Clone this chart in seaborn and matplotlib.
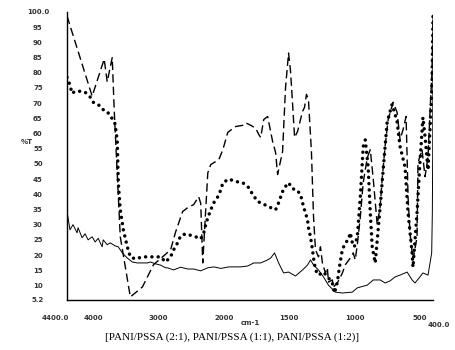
import numpy as np
import pandas as pd
import seaborn as sns
import matplotlib.pyplot as plt
from matplotlib.transforms import ScaledTranslation

# wavenumbers (cm-1) and %T
wn_21 = [4400, 4015, 3831, 3785, 3708, 3677, 3585, 3431, 3246, 3077, 2815, 2738,
         2631, 2554, 2462, 2385, 2354, 2323, 2246, 2200, 2077, 2015, 1970, 1909,
         1855, 1832, 1794, 1756, 1733, 1718, 1695, 1665, 1627, 1604, 1589, 1551,
         1528, 1505, 1490, 1474, 1459, 1436, 1398, 1383, 1368, 1353, 1330, 1314,
         1299, 1276, 1261, 1246, 1223, 1208, 1200, 1170, 1162, 1132, 1094, 1071,
         1033, 1010, 995, 979, 956, 934, 903, 880, 857, 827, 804, 789, 766, 743,
         705, 675, 652, 629, 606, 598, 591, 576, 553, 522, 515, 484, 461, 438,
         423, 408, 400]
t_21 = [98.7, 72.3, 84.5, 77.0, 85.0, 67.3, 26.0, 6.2, 9.5, 16.8, 21.7, 27.6,
        34.3, 35.6, 36.6, 39.2, 37.0, 17.4, 47.0, 49.8, 51.4, 54.7, 60.4, 62.3,
        62.7, 63.5, 62.7, 61.7, 59.7, 58.7, 64.6, 65.6, 57.4, 53.7, 46.5, 54.0,
        75.2, 86.5, 80.5, 69.6, 58.7, 60.7, 67.3, 68.6, 72.9, 71.2, 54.0, 32.6,
        21.7, 19.4, 22.7, 17.4, 14.1, 15.8, 11.1, 11.8, 9.5, 10.8, 14.0, 16.8,
        19.0, 20.7, 18.4, 23.4, 32.6, 43.8, 52.0, 54.7, 45.0, 30.0, 36.0, 45.0,
        56.0, 64.6, 70.3, 67.0, 58.0, 61.3, 65.6, 52.4, 39.0, 27.3, 18.4, 26.0,
        50.4, 54.7, 45.8, 52.4, 67.0, 80.0, 99.0]

wn_11 = [4400, 4354, 4323, 4277, 4200, 4123, 4046, 4000, 3923, 3862, 3785, 3738,
         3692, 3662, 3631, 3615, 3585, 3538, 3477, 3431, 3354, 3246, 3092, 2969,
         2892, 2815, 2769, 2708, 2662, 2585, 2508, 2431, 2354, 2308, 2277, 2246,
         2200, 2154, 2092, 2046, 2015, 1962, 1909, 1855, 1810, 1779, 1741, 1703,
         1657, 1604, 1581, 1543, 1505, 1474, 1444, 1413, 1398, 1383, 1360, 1353,
         1337, 1322, 1314, 1299, 1276, 1238, 1200, 1170, 1154, 1132, 1116, 1094,
         1071, 1048, 1033, 1017, 1002, 979, 956, 934, 918, 896, 880, 865, 842,
         804, 766, 751, 713, 675, 652, 614, 591, 560, 553, 522, 500, 477, 461,
         438, 423, 408, 400]
t_11 = [78.5, 75.9, 73.2, 73.9, 73.9, 73.6, 72.0, 70.3, 69.6, 68.0, 67.3, 65.6,
        64.6, 63.0, 57.4, 43.8, 34.9, 28.3, 22.7, 19.4, 18.7, 19.4, 19.4, 19.4,
        17.7, 19.4, 21.7, 24.0, 26.3, 27.0, 26.5, 26.0, 25.3, 27.3, 30.0, 32.3,
        34.9, 37.2, 39.2, 41.5, 43.8, 45.0, 44.2, 43.8, 42.2, 39.9, 37.6, 36.9,
        35.9, 34.9, 37.2, 41.8, 43.8, 41.8, 41.5, 39.9, 37.2, 34.9, 31.6, 29.0,
        26.0, 21.7, 19.0, 15.1, 13.4, 14.4, 12.5, 10.8, 7.5, 11.0, 16.0, 21.7,
        24.0, 25.0, 27.3, 24.0, 22.7, 26.0, 39.2, 55.7, 57.9, 49.0, 34.0, 22.7,
        17.4, 36.0, 56.0, 63.7, 69.6, 64.0, 55.7, 49.0, 34.0, 20.7, 16.0, 34.0,
        50.4, 65.3, 59.0, 48.0, 61.3, 75.6, 99.0]

wn_12 = [4400, 4354, 4308, 4246, 4231, 4169, 4123, 4077, 4015, 3969, 3923, 3862,
         3846, 3785, 3738, 3662, 3615, 3554, 3477, 3400, 3323, 3246, 3169, 3123,
         3046, 2969, 2892, 2862, 2769, 2662, 2554, 2462, 2354, 2246, 2154, 2046,
         1962, 1871, 1817, 1771, 1718, 1665, 1642, 1612, 1581, 1543, 1505, 1452,
         1398, 1360, 1337, 1314, 1276, 1238, 1200, 1147, 1094, 1017, 979, 903,
         857, 804, 766, 728, 690, 652, 598, 560, 538, 500, 477, 438, 410, 405,
         402, 400]
t_12 = [34.3, 28.3, 30.0, 27.3, 29.0, 25.7, 27.0, 25.0, 26.0, 24.3, 25.5, 22.7,
        25.0, 23.4, 24.0, 23.0, 22.7, 20.7, 19.0, 17.7, 17.4, 17.4, 17.4, 17.7,
        17.1, 16.7, 15.8, 15.8, 15.1, 16.0, 15.4, 15.4, 14.8, 15.8, 16.1, 15.6,
        16.1, 16.1, 16.4, 17.4, 17.4, 18.4, 19.0, 20.7, 17.4, 14.1, 14.4, 13.1,
        15.1, 16.7, 18.4, 16.7, 15.1, 12.8, 10.1, 7.8, 7.5, 7.8, 9.2, 10.1,
        11.8, 11.8, 10.8, 11.5, 12.8, 13.4, 14.4, 11.8, 10.8, 12.8, 14.1, 13.4,
        20.7, 34.0, 56.0, 99.0]

x_ticks = [4400, 4000, 3000, 2000, 1500, 1000, 500, 400]
x_labels = ["4400.0", "4000", "3000", "2000", "1500", "1000", "500", "400.0"]
y_ticks = [5.2] + list(range(10, 101, 5))
y_labels = ["5.2"] + [str(v) for v in range(10, 100, 5)] + ["100.0"]


# FTIR style axis: region below 2000 cm-1 is stretched 2x
def fwd(x):
    x = np.asarray(x, dtype=float)
    return np.where(x >= 2000, x, 2 * x - 2000)


def inv(u):
    u = np.asarray(u, dtype=float)
    return np.where(u >= 2000, u, (u + 2000) / 2)


sns.set_theme(style="white")
plt.rcParams["font.family"] = ["DejaVu Sans"]

fig = plt.figure(figsize=(4.56, 3.5), dpi=100)
ax = fig.add_axes([67 / 456, 1 - 300 / 350, 366 / 456, 288 / 350])
ax.set_xscale("function", functions=(fwd, inv))

df21 = pd.DataFrame({"wn": wn_21, "T": t_21})
df11 = pd.DataFrame({"wn": wn_11, "T": t_11})
df12 = pd.DataFrame({"wn": wn_12, "T": t_12})

sns.lineplot(data=df12, x="wn", y="T", ax=ax, color="black", linewidth=0.7,
             estimator=None, sort=False)
sns.lineplot(data=df21, x="wn", y="T", ax=ax, color="black", linewidth=1.0,
             linestyle=(0, (6, 3)), estimator=None, sort=False)
line = sns.lineplot(data=df11, x="wn", y="T", ax=ax, color="black", linewidth=2.5,
                    linestyle=(0, (0.01, 1.8)), estimator=None, sort=False).lines[-1]
line.set_dash_capstyle("round")

ax.set_xlim(4400, 400)
ax.set_ylim(5.2, 100)
ax.set_xticks(x_ticks)
ax.set_xticklabels(x_labels)
ax.set_yticks(y_ticks)
ax.set_yticklabels(y_labels, ha="center")
ax.minorticks_off()

for s in ["top", "right"]:
    ax.spines[s].set_visible(False)
for s in ["left", "bottom"]:
    ax.spines[s].set_color("black")
    ax.spines[s].set_linewidth(1.0)

ax.tick_params(axis="x", direction="out", length=3, width=0.8, color="black",
               labelsize=5, pad=8, labelcolor="#333333")
ax.tick_params(axis="y", direction="in", length=2.5, width=0.8, color="black",
               labelsize=5, pad=21, labelcolor="#333333")
for lab in ax.get_xticklabels() + ax.get_yticklabels():
    lab.set_fontweight("bold")

# end labels sit off their ticks in the original
xl = ax.get_xticklabels()
xl[0].set_transform(xl[0].get_transform() + ScaledTranslation(-0.12, 0, fig.dpi_scale_trans))
xl[-1].set_transform(xl[-1].get_transform() + ScaledTranslation(0.06, -0.07, fig.dpi_scale_trans))

ax.set_xlabel("")
ax.set_ylabel("")
fig.text(27 / 456, 1 - 142 / 350, "%T", fontsize=5, fontweight="bold",
         color="#333333", ha="center", va="center")
fig.text(250 / 456, 1 - 323 / 350, "cm-1", fontsize=5, fontweight="bold",
         color="#333333", ha="center", va="center")
fig.text(232 / 456, 1 - 337 / 350,
         "[PANI/PSSA (2:1), PANI/PSSA (1:1), PANI/PSSA (1:2)]",
         fontsize=8, family=["Liberation Serif"], color="black",
         ha="center", va="center")

fig.savefig("out.png", dpi=100)
